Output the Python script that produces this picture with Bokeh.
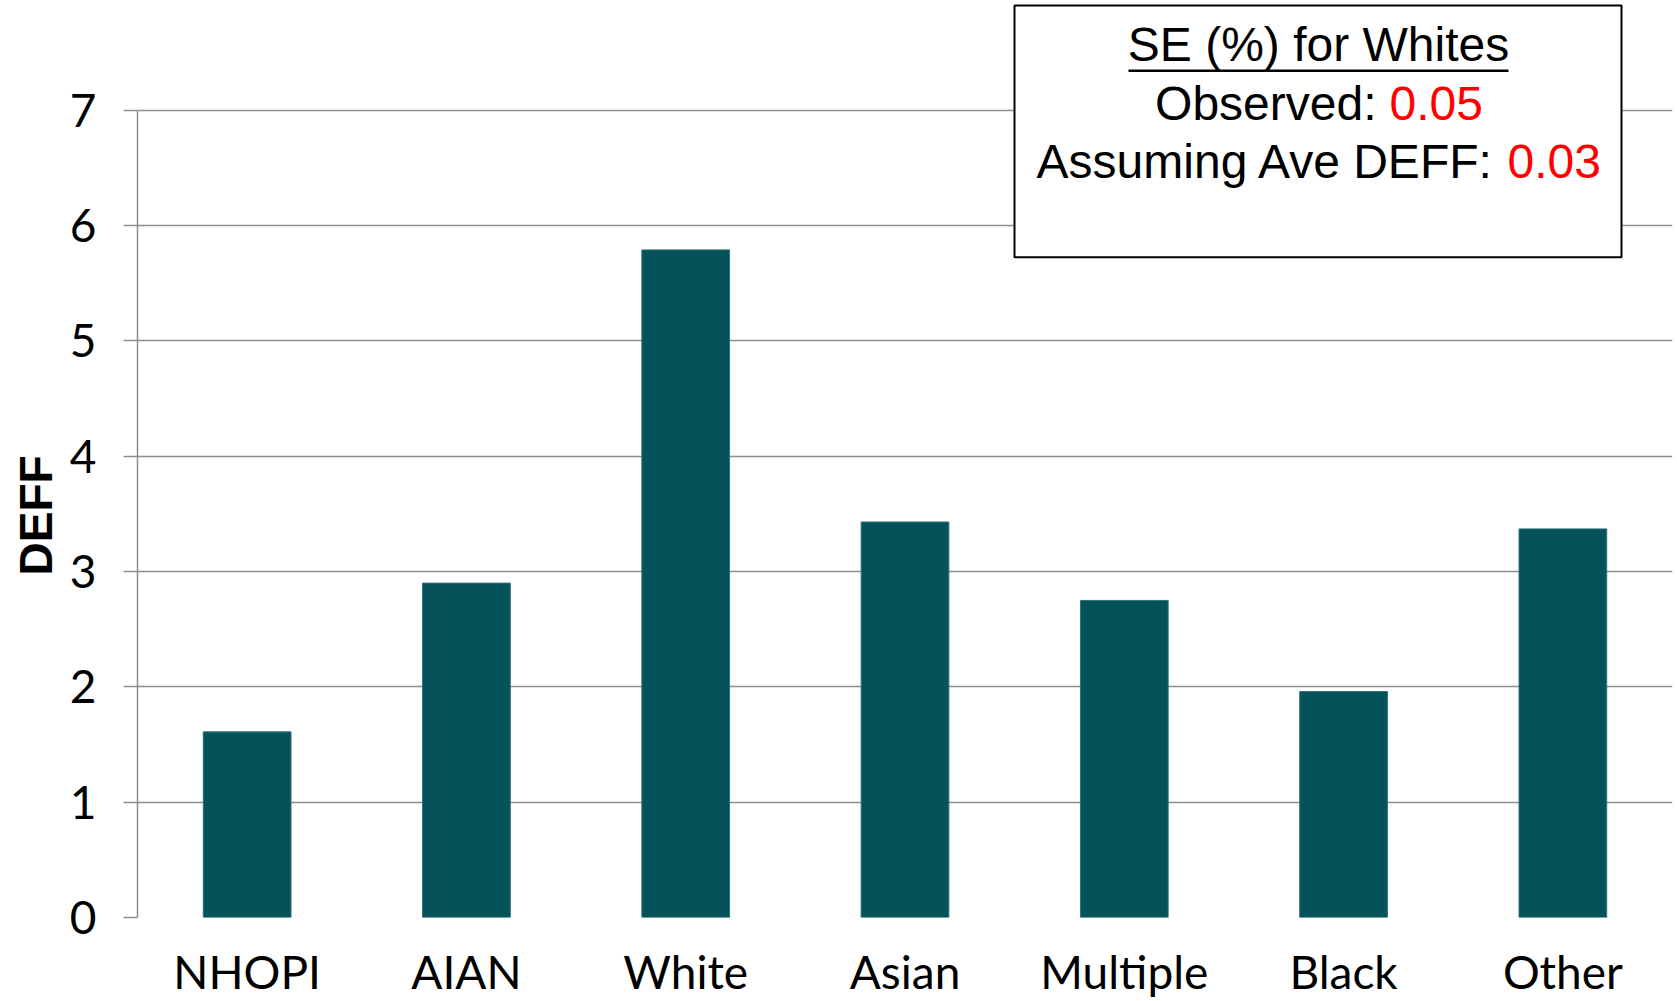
from bokeh.plotting import figure
from bokeh.models import FixedTicker, BoxAnnotation, Label, Range1d, FactorRange, Title
from bokeh.embed import file_html
from bokeh.resources import INLINE

# Design effect by race group
groups = ["NHOPI", "AIAN", "White", "Asian", "Multiple", "Black", "Other"]
deff = [1.61, 2.90, 5.79, 3.43, 2.75, 1.96, 3.37]
y_ticks = [0, 1, 2, 3, 4, 5, 6, 7]

# Standard error note for Whites
note_title = "SE (%) for Whites"
observed_label = "Observed:"
observed_value = "0.05"
assumed_label = "Assuming Ave DEFF:"
assumed_value = "0.03"

W, H = 1677, 1001
LEFT, RIGHT, BOTTOM = 137, 1672, 918
TOP_TICK_PX = 110          # pixel row of the highest tick (7)
Y_MAX = 7
PX_PER_UNIT = (BOTTOM - TOP_TICK_PX) / Y_MAX

p = figure(
    width=W, height=H,
    x_range=FactorRange(*groups),
    y_range=Range1d(0, BOTTOM / PX_PER_UNIT),   # headroom above 7 holds the note
    output_backend="svg", toolbar_location=None,
    min_border_left=LEFT, min_border_right=W - RIGHT,
    min_border_top=0, min_border_bottom=H - BOTTOM,
)
p.outline_line_color = None
p.background_fill_color = "white"
p.border_fill_color = "white"

# helpers: page pixel -> data coordinate
def dx(px):
    return (px - LEFT) / ((RIGHT - LEFT) / len(groups))

def dy(py):
    return (BOTTOM - py) / PX_PER_UNIT

p.vbar(x=groups, top=deff, width=0.4, fill_color="#04535A",
       line_color="#2F7077", line_width=1)

grey = "#8E8E8E"
p.xgrid.grid_line_color = None
p.ygrid.ticker = FixedTicker(ticks=y_ticks)
p.ygrid.grid_line_color = grey
p.ygrid.grid_line_width = 1.5

ya = p.yaxis[0]
ya.ticker = FixedTicker(ticks=y_ticks)
ya.bounds = (0, Y_MAX)
ya.axis_line_color = grey
ya.axis_line_width = 1.5
ya.major_tick_line_color = grey
ya.major_tick_line_width = 1.5
ya.major_tick_out = 14
ya.major_tick_in = 0
ya.minor_tick_line_color = None
ya.major_label_text_font = "Lato"
ya.major_label_text_font_size = "46px"
ya.major_label_text_color = "black"
ya.major_label_standoff = 27

# y-axis title, placed along the 0-7 span (starts just below the middle)
p.add_layout(Title(text="DEFF", align="left", offset=342,
                   text_font="Liberation Sans", text_font_style="bold",
                   text_font_size="46px", text_color="black", standoff=10), "left")

xa = p.xaxis[0]
xa.axis_line_color = None
xa.major_tick_line_color = None
xa.minor_tick_line_color = None
xa.major_label_text_font = "Lato"
xa.major_label_text_font_size = "46px"
xa.major_label_text_color = "black"
xa.major_label_standoff = 20

# note box
p.add_layout(BoxAnnotation(left=dx(1014), right=dx(1621), top=dy(5), bottom=dy(257),
                           fill_color="white", fill_alpha=1.0,
                           line_color="black", line_width=2, line_alpha=1.0))

BASELINE_SHIFT = 18

def note(text, px, py, align, color="black"):
    p.add_layout(Label(x=dx(px), y=dy(py - BASELINE_SHIFT), text=text, text_align=align,
                       text_baseline="alphabetic", text_font="Liberation Sans",
                       text_font_size="48px", text_color=color))

note(note_title, 1318, 62, "center")
p.add_layout(BoxAnnotation(left=dx(1128), right=dx(1508), top=dy(69), bottom=dy(71.5),
                           fill_color="black", fill_alpha=1.0, line_color=None))
note(observed_label, 1376, 121, "right")
note(observed_value, 1389, 121, "left", "#FF0000")
note(assumed_label, 1494, 179, "right")
note(assumed_value, 1507, 179, "left", "#FF0000")

open("out.html", "w").write(file_html(p, INLINE))
